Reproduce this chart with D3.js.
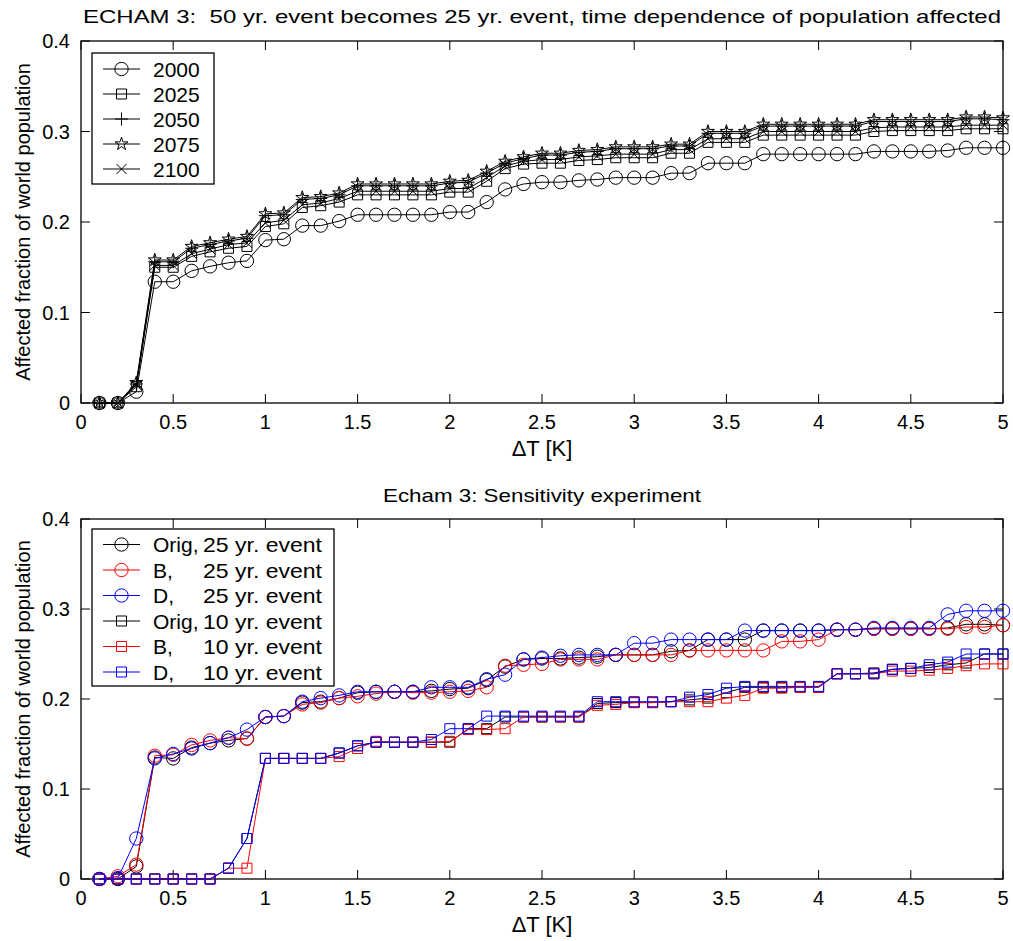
<!DOCTYPE html>
<html>
<head>
<meta charset="utf-8">
<script src="https://cdn.jsdelivr.net/npm/d3@7"></script>
<style>
  html, body { margin: 0; padding: 0; background: #fff; }
  #chart { width: 1013px; height: 941px; }
  text { font-family: "Liberation Sans", Arial, Helvetica, sans-serif; fill: #000; }
</style>
</head>
<body>
<div id="chart"></div>
<script>
// Two stacked MATLAB-style panels: population affected vs warming dT.
var deltaT = [0.1, 0.2, 0.3, 0.4, 0.5, 0.6, 0.7, 0.8, 0.9, 1.0,
              1.1, 1.2, 1.3, 1.4, 1.5, 1.6, 1.7, 1.8, 1.9, 2.0,
              2.1, 2.2, 2.3, 2.4, 2.5, 2.6, 2.7, 2.8, 2.9, 3.0,
              3.1, 3.2, 3.3, 3.4, 3.5, 3.6, 3.7, 3.8, 3.9, 4.0,
              4.1, 4.2, 4.3, 4.4, 4.5, 4.6, 4.7, 4.8, 4.9, 5.0];

var xTickValues = [0, 0.5, 1, 1.5, 2, 2.5, 3, 3.5, 4, 4.5, 5];
var xTickLabels = ['0', '0.5', '1', '1.5', '2', '2.5', '3', '3.5', '4', '4.5', '5'];
var yTickValues = [0, 0.1, 0.2, 0.3, 0.4];
var yTickLabels = ['0', '0.1', '0.2', '0.3', '0.4'];

// ---- top panel: ECHAM 3, population years
var yearNames = ['2000', '2025', '2050', '2075', '2100'];
var y2000 = [0, 0, 0.0125, 0.134, 0.134, 0.146, 0.151, 0.155, 0.157, 0.180,
             0.181, 0.196, 0.196, 0.201, 0.208, 0.208, 0.208, 0.208, 0.208, 0.211,
             0.211, 0.222, 0.236, 0.242, 0.244, 0.244, 0.246, 0.247, 0.249, 0.249,
             0.249, 0.254, 0.254, 0.265, 0.265, 0.265, 0.275, 0.275, 0.275, 0.275,
             0.275, 0.275, 0.278, 0.278, 0.278, 0.278, 0.279, 0.282, 0.282, 0.282];
var y2025 = [0, 0, 0.018, 0.150, 0.150, 0.162, 0.167, 0.171, 0.173, 0.195,
             0.198, 0.216, 0.218, 0.222, 0.230, 0.230, 0.230, 0.230, 0.230, 0.233,
             0.233, 0.245, 0.259, 0.264, 0.265, 0.265, 0.268, 0.269, 0.271, 0.271,
             0.271, 0.276, 0.276, 0.288, 0.288, 0.288, 0.296, 0.296, 0.296, 0.296,
             0.296, 0.296, 0.300, 0.301, 0.301, 0.301, 0.301, 0.303, 0.303, 0.303];
var y2050 = [0, 0, 0.021, 0.156, 0.156, 0.171, 0.175, 0.179, 0.182, 0.207,
             0.208, 0.225, 0.226, 0.230, 0.240, 0.240, 0.240, 0.240, 0.240, 0.243,
             0.244, 0.254, 0.265, 0.270, 0.274, 0.274, 0.277, 0.278, 0.281, 0.281,
             0.281, 0.284, 0.284, 0.298, 0.298, 0.298, 0.306, 0.306, 0.306, 0.306,
             0.306, 0.306, 0.311, 0.311, 0.311, 0.311, 0.311, 0.314, 0.314, 0.313];
var y2075 = [0, 0, 0.0225, 0.158, 0.158, 0.173, 0.177, 0.181, 0.184, 0.209,
             0.210, 0.227, 0.228, 0.232, 0.242, 0.242, 0.242, 0.242, 0.242, 0.245,
             0.246, 0.256, 0.267, 0.272, 0.276, 0.276, 0.279, 0.280, 0.283, 0.283,
             0.283, 0.286, 0.286, 0.300, 0.300, 0.300, 0.308, 0.308, 0.308, 0.308,
             0.308, 0.308, 0.313, 0.313, 0.313, 0.313, 0.313, 0.316, 0.316, 0.315];
var y2100 = [0, 0, 0.020, 0.152, 0.152, 0.165, 0.170, 0.175, 0.177, 0.199,
             0.202, 0.219, 0.221, 0.226, 0.234, 0.234, 0.234, 0.234, 0.234, 0.237,
             0.237, 0.249, 0.262, 0.267, 0.269, 0.269, 0.272, 0.273, 0.275, 0.275,
             0.275, 0.280, 0.280, 0.292, 0.292, 0.292, 0.300, 0.300, 0.300, 0.300,
             0.300, 0.300, 0.304, 0.305, 0.305, 0.305, 0.305, 0.307, 0.307, 0.307];

// ---- bottom panel: sensitivity experiment
var sensNames = ['Orig,', 'B,', 'D,', 'Orig,', 'B,', 'D,'];
var sensEvents = ['25 yr. event', '25 yr. event', '25 yr. event',
                  '10 yr. event', '10 yr. event', '10 yr. event'];
var orig25 = [0, 0, 0.014, 0.135, 0.134, 0.146, 0.151, 0.154, 0.156, 0.180,
              0.181, 0.196, 0.197, 0.201, 0.207, 0.208, 0.208, 0.208, 0.209, 0.211,
              0.212, 0.221, 0.236, 0.244, 0.245, 0.245, 0.246, 0.247, 0.249, 0.249,
              0.249, 0.253, 0.254, 0.266, 0.266, 0.266, 0.276, 0.276, 0.276, 0.276,
              0.277, 0.277, 0.278, 0.278, 0.278, 0.278, 0.279, 0.283, 0.283, 0.282];
var b25 = [0, 0.003, 0.016, 0.137, 0.138, 0.149, 0.154, 0.157, 0.156, 0.180,
           0.181, 0.194, 0.196, 0.201, 0.203, 0.206, 0.208, 0.207, 0.207, 0.208,
           0.209, 0.213, 0.237, 0.238, 0.239, 0.244, 0.244, 0.244, 0.249, 0.249,
           0.249, 0.249, 0.254, 0.254, 0.254, 0.254, 0.254, 0.264, 0.264, 0.266,
           0.277, 0.277, 0.278, 0.278, 0.278, 0.278, 0.278, 0.280, 0.280, 0.282];
var d25 = [0, 0.001, 0.045, 0.134, 0.139, 0.145, 0.151, 0.157, 0.166, 0.180,
           0.181, 0.197, 0.201, 0.204, 0.208, 0.208, 0.208, 0.208, 0.213, 0.213,
           0.213, 0.222, 0.227, 0.244, 0.246, 0.248, 0.249, 0.249, 0.249, 0.262,
           0.262, 0.266, 0.266, 0.266, 0.266, 0.276, 0.276, 0.276, 0.276, 0.276,
           0.277, 0.277, 0.279, 0.279, 0.279, 0.279, 0.294, 0.298, 0.298, 0.298];
var orig10 = [0, 0, 0, 0, 0, 0, 0, 0.012, 0.045, 0.134,
              0.134, 0.134, 0.134, 0.140, 0.148, 0.152, 0.152, 0.152, 0.152, 0.152,
              0.167, 0.167, 0.180, 0.180, 0.180, 0.180, 0.180, 0.195, 0.196, 0.196,
              0.196, 0.197, 0.199, 0.201, 0.207, 0.213, 0.213, 0.213, 0.213, 0.213,
              0.228, 0.228, 0.229, 0.233, 0.234, 0.235, 0.238, 0.240, 0.250, 0.250];
var b10 = [0, 0, 0, 0, 0, 0, 0, 0.012, 0.012, 0.134,
           0.134, 0.134, 0.134, 0.136, 0.145, 0.153, 0.152, 0.152, 0.152, 0.153,
           0.166, 0.166, 0.167, 0.180, 0.180, 0.180, 0.180, 0.193, 0.194, 0.196,
           0.196, 0.197, 0.197, 0.197, 0.201, 0.204, 0.212, 0.212, 0.213, 0.213,
           0.228, 0.228, 0.228, 0.231, 0.231, 0.232, 0.234, 0.237, 0.239, 0.239];
var d10 = [0, 0, 0, 0, 0, 0, 0, 0.012, 0.045, 0.134,
           0.134, 0.134, 0.134, 0.140, 0.148, 0.152, 0.152, 0.152, 0.155, 0.167,
           0.167, 0.181, 0.181, 0.181, 0.181, 0.181, 0.181, 0.197, 0.197, 0.197,
           0.197, 0.197, 0.202, 0.205, 0.212, 0.214, 0.214, 0.214, 0.214, 0.214,
           0.228, 0.228, 0.228, 0.233, 0.234, 0.238, 0.241, 0.250, 0.250, 0.250];

(function () {
    var W = 1013, H = 941;
    var TICK_FONT = 20;

    var svg = d3.select('#chart').append('svg')
        .attr('width', W).attr('height', H)
        .attr('viewBox', '0 0 ' + W + ' ' + H);

    // marker path generators (unfilled, MATLAB style)
    var markers = {
        circle: function () { return d3.symbol(d3.symbolCircle, 140)(); },
        square: function () { return 'M-5,-5H5V5H-5Z'; },
        plus:   function () { return 'M-6.5,0H6.5M0,-6.5V6.5'; },
        star:   function () { return d3.symbol(d3.symbolStar, 52)(); },
        times:  function () { return 'M-5,-5L5,5M-5,5L5,-5'; }
    };

    function drawPanel(p) {
        var x = d3.scaleLinear().domain([0, 5]).range([p.left, p.right]);
        var y = d3.scaleLinear().domain([0, 0.4]).range([p.bottom, p.top]);
        var g = svg.append('g');

        // frame
        g.append('rect')
            .attr('x', p.left).attr('y', p.top)
            .attr('width', p.right - p.left).attr('height', p.bottom - p.top)
            .attr('fill', 'none').attr('stroke', '#000').attr('stroke-width', 1.3);

        // inward ticks on all four sides
        var tl = 9;
        xTickValues.forEach(function (v) {
            g.append('line').attr('x1', x(v)).attr('x2', x(v))
                .attr('y1', p.bottom).attr('y2', p.bottom - tl)
                .attr('stroke', '#000').attr('stroke-width', 1);
            g.append('line').attr('x1', x(v)).attr('x2', x(v))
                .attr('y1', p.top).attr('y2', p.top + tl)
                .attr('stroke', '#000').attr('stroke-width', 1);
        });
        yTickValues.forEach(function (v) {
            g.append('line').attr('x1', p.left).attr('x2', p.left + tl)
                .attr('y1', y(v)).attr('y2', y(v))
                .attr('stroke', '#000').attr('stroke-width', 1);
            g.append('line').attr('x1', p.right).attr('x2', p.right - tl)
                .attr('y1', y(v)).attr('y2', y(v))
                .attr('stroke', '#000').attr('stroke-width', 1);
        });

        // tick labels
        g.selectAll('text.xt').data(xTickValues).enter().append('text')
            .attr('class', 'xt')
            .attr('x', function (d) { return x(d); })
            .attr('y', p.bottom + 26)
            .attr('text-anchor', 'middle')
            .attr('font-size', TICK_FONT)
            .text(function (d, i) { return xTickLabels[i]; });
        g.selectAll('text.yt').data(yTickValues).enter().append('text')
            .attr('class', 'yt')
            .attr('x', p.left - 11)
            .attr('y', function (d) { return y(d) + 7; })
            .attr('text-anchor', 'end')
            .attr('font-size', TICK_FONT)
            .text(function (d, i) { return yTickLabels[i]; });

        // titles
        g.append('text')
            .attr('x', (p.left + p.right) / 2).attr('y', p.titleY)
            .attr('text-anchor', 'middle').attr('font-size', 19)
            .attr('textLength', p.titleW).attr('lengthAdjust', 'spacingAndGlyphs')
            .style('white-space', 'pre')
            .text(p.title);
        g.append('text')
            .attr('x', (p.left + p.right) / 2).attr('y', p.bottom + 53)
            .attr('text-anchor', 'middle').attr('font-size', 22)
            .text('\u0394T [K]');
        g.append('text')
            .attr('transform', 'translate(30,' + ((p.top + p.bottom) / 2) + ') rotate(-90)')
            .attr('text-anchor', 'middle').attr('font-size', 20)
            .text('Affected fraction of world population');

        // series
        var line = d3.line()
            .x(function (d, i) { return x(deltaT[i]); })
            .y(function (d) { return y(d); });

        p.series.forEach(function (s) {
            var sg = g.append('g');
            sg.append('path').datum(s.values)
                .attr('d', line)
                .attr('fill', 'none').attr('stroke', s.color).attr('stroke-width', 1);
            sg.selectAll('path.m').data(s.values).enter().append('path')
                .attr('class', 'm')
                .attr('transform', function (d, i) {
                    return 'translate(' + x(deltaT[i]) + ',' + y(d) + ')';
                })
                .attr('d', markers[s.marker]())
                .attr('fill', 'none').attr('stroke', s.color).attr('stroke-width', 1);
        });

        // legend
        var L = p.legend;
        g.append('rect')
            .attr('x', L.x).attr('y', L.y).attr('width', L.w).attr('height', L.h)
            .attr('fill', '#fff').attr('stroke', '#000').attr('stroke-width', 1.3);
        p.series.forEach(function (s, i) {
            var ly = L.y + L.first + i * L.row;
            g.append('line')
                .attr('x1', L.x + 11).attr('x2', L.x + 48)
                .attr('y1', ly).attr('y2', ly)
                .attr('stroke', s.color).attr('stroke-width', 1);
            g.append('path')
                .attr('transform', 'translate(' + (L.x + 29.5) + ',' + ly + ')')
                .attr('d', markers[s.marker]())
                .attr('fill', 'none').attr('stroke', s.color).attr('stroke-width', 1);
            var t = g.append('text')
                .attr('x', L.x + 61).attr('y', ly + 7.5)
                .attr('font-size', 21);
            t.append('tspan').text(s.label);
            if (s.label2) {
                t.append('tspan').attr('x', L.x + L.col2)
                    .attr('textLength', L.w2).attr('lengthAdjust', 'spacingAndGlyphs')
                    .text(s.label2);
            }
        });
    }

    drawPanel({
        left: 81, right: 1003, top: 41, bottom: 403,
        titleY: 23, titleW: 918,
        title: 'ECHAM 3:  50 yr. event becomes 25 yr. event, time dependence of population affected',
        legend: { x: 92, y: 53, w: 122, h: 131, first: 16, row: 25 },
        series: [
            { values: y2000, label: yearNames[0], color: '#000', marker: 'circle' },
            { values: y2025, label: yearNames[1], color: '#000', marker: 'square' },
            { values: y2050, label: yearNames[2], color: '#000', marker: 'plus' },
            { values: y2075, label: yearNames[3], color: '#000', marker: 'star' },
            { values: y2100, label: yearNames[4], color: '#000', marker: 'times' }
        ]
    });

    drawPanel({
        left: 81, right: 1003, top: 519, bottom: 879,
        titleY: 502, titleW: 318,
        title: 'Echam 3: Sensitivity experiment',
        legend: { x: 92, y: 529, w: 242, h: 157, first: 15.5, row: 25.5, col2: 111, w2: 119 },
        series: [
            { values: orig25, label: sensNames[0], label2: sensEvents[0], color: '#000', marker: 'circle' },
            { values: b25, label: sensNames[1], label2: sensEvents[1], color: '#ff0000', marker: 'circle' },
            { values: d25, label: sensNames[2], label2: sensEvents[2], color: '#0000ff', marker: 'circle' },
            { values: orig10, label: sensNames[3], label2: sensEvents[3], color: '#000', marker: 'square' },
            { values: b10, label: sensNames[4], label2: sensEvents[4], color: '#ff0000', marker: 'square' },
            { values: d10, label: sensNames[5], label2: sensEvents[5], color: '#0000ff', marker: 'square' }
        ]
    });
})();
</script>
</body>
</html>
